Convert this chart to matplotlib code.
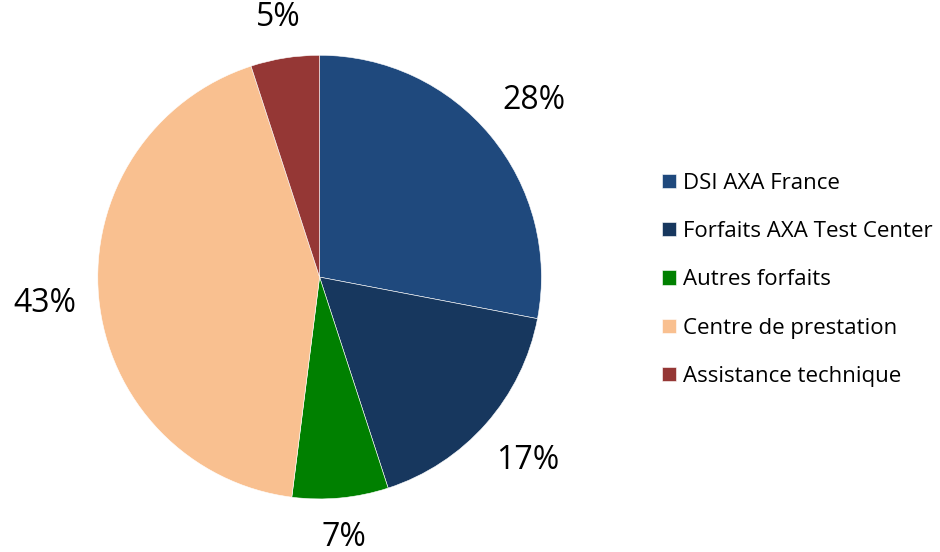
import matplotlib
matplotlib.use("Agg")
import numpy as np
import matplotlib.pyplot as plt

plt.rcParams['font.family'] = ['Open Sans', 'DejaVu Sans']

labels = ['DSI AXA France', 'Forfaits AXA Test Center', 'Autres forfaits',
          'Centre de prestation', 'Assistance technique']
shares = [28, 17, 7, 43, 5]
colors = ['#1F497D', '#17375E', '#008000', '#F9C090', '#953735']

fig = plt.figure(figsize=(9.4, 5.52), dpi=100)
ax = fig.add_axes([0.104, 0.096, 0.472, 0.804])

wedges, texts = ax.pie(shares, colors=colors, startangle=90, counterclock=False,
                       labels=[f'{s}%' for s in shares], labeldistance=1.2,
                       wedgeprops=dict(edgecolor='white', linewidth=0.4),
                       textprops=dict(fontsize=23, color='black'))
ax.set_xlim(-1, 1)
ax.set_ylim(-1, 1)
ax.set_aspect('equal')
ax.axis('off')

# put labels just outside the pie edge, like Excel "outside end"
fig.canvas.draw()
r_px = ax.transData.transform((1, 0))[0] - ax.transData.transform((0, 0))[0]
gap = 21
for w, t in zip(wedges, texts):
    t.set_horizontalalignment('center')
    t.set_verticalalignment('center')
    ang = np.deg2rad((w.theta1 + w.theta2) / 2)
    bb = t.get_window_extent()
    hw, hh = bb.width / 2, bb.height / 2
    ext = abs(np.cos(ang)) * hw + abs(np.sin(ang)) * hh
    d = (r_px + gap + ext) / r_px
    t.set_position((d * np.cos(ang), d * np.sin(ang)))

leg = fig.legend(wedges, labels, loc='center left', bbox_to_anchor=(0.683, 0.493),
                 frameon=False, fontsize=16, handlelength=0.63, handleheight=0.63,
                 handletextpad=0.3, labelspacing=1.23)

fig.savefig('out.png', dpi=100)
